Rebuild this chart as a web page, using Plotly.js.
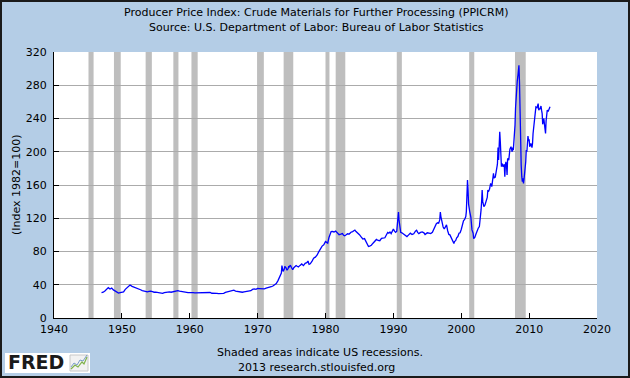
<!DOCTYPE html>
<html><head><meta charset="utf-8">
<script src="https://cdn.plot.ly/plotly-3.0.1.min.js"></script>
<style>
html,body{margin:0;padding:0;background:#B4CDE6}
#wrap{position:relative;width:630px;height:378px}
#chart{width:630px;height:378px}
#frame{position:absolute;left:0;top:0;width:630px;height:378px;box-sizing:border-box;border:2px solid #1a1a1a;pointer-events:none}
</style>
</head><body><div id="wrap"><div id="chart"></div><div id="frame"></div></div>
<script>
// Time (decimal years) and PPI crude materials values (Index 1982=100)
const years = [
1947.0,1947.25,1947.5,1947.75,1948.0,1948.25,1948.5,1948.75,1949.0,1949.25,1949.5,1949.75,
1950.0,1950.25,1950.5,1950.75,1951.0,1951.2,1951.5,1951.75,1952.0,1952.25,1952.5,1952.75,
1953.0,1953.25,1953.5,1953.75,1954.0,1954.25,1954.5,1954.75,1955.0,1955.25,1955.5,1955.75,
1956.0,1956.25,1956.5,1956.75,1957.0,1957.25,1957.5,1957.75,1958.0,1958.25,1958.5,1958.75,
1959.0,1959.25,1959.5,1959.75,1960.0,1960.25,1960.5,1960.75,1961.0,1961.25,1961.5,1961.75,
1962.0,1962.25,1962.5,1962.75,1963.0,1963.25,1963.5,1963.75,1964.0,1964.25,1964.5,1964.75,
1965.0,1965.25,1965.5,1965.75,1966.0,1966.25,1966.5,1966.75,1967.0,1967.25,1967.5,1967.75,
1968.0,1968.25,1968.5,1968.75,1969.0,1969.25,1969.5,1969.75,1970.0,1970.25,1970.5,1970.75,
1971.0,1971.25,1971.5,1971.75,1972.0,1972.25,1972.5,1972.75,
1973.0,1973.17,1973.33,1973.5,1973.58,1973.67,1973.75,1973.92,
1974.0,1974.17,1974.33,1974.5,1974.58,1974.67,1974.83,
1975.0,1975.17,1975.33,1975.5,1975.67,1975.83,
1976.0,1976.25,1976.5,1976.75,1977.0,1977.25,1977.42,1977.58,1977.75,
1978.0,1978.25,1978.5,1978.75,1979.0,1979.25,1979.5,1979.75,1979.92,
1980.0,1980.17,1980.33,1980.5,1980.67,1980.83,1981.0,1981.25,1981.5,1981.67,1981.83,
1982.0,1982.25,1982.5,1982.67,1982.83,1983.0,1983.25,1983.5,1983.75,
1984.0,1984.17,1984.33,1984.5,1984.75,1985.0,1985.25,1985.5,1985.75,
1986.0,1986.17,1986.33,1986.5,1986.75,1987.0,1987.25,1987.5,1987.75,
1988.0,1988.25,1988.5,1988.75,1989.0,1989.17,1989.33,1989.5,1989.67,1989.83,
1990.0,1990.17,1990.33,1990.5,1990.58,1990.67,1990.75,1990.83,1990.92,
1991.0,1991.08,1991.25,1991.5,1991.67,1991.83,1992.0,1992.25,1992.5,1992.75,
1993.0,1993.25,1993.42,1993.58,1993.75,1994.0,1994.25,1994.5,1994.67,1994.83,
1995.0,1995.25,1995.5,1995.75,1996.0,1996.17,1996.33,1996.5,1996.67,1996.83,1996.92,
1997.0,1997.17,1997.33,1997.5,1997.67,1997.83,1998.0,1998.17,1998.33,1998.5,1998.67,1998.83,1998.92,
1999.0,1999.17,1999.33,1999.5,1999.67,1999.83,2000.0,2000.17,2000.33,2000.5,2000.67,2000.75,2000.83,2000.92,
2001.0,2001.08,2001.25,2001.42,2001.58,2001.75,2001.83,2001.92,
2002.0,2002.17,2002.33,2002.5,2002.67,2002.83,2002.92,
2003.0,2003.08,2003.17,2003.33,2003.5,2003.67,2003.83,2003.92,
2004.0,2004.17,2004.33,2004.5,2004.67,2004.75,2004.83,2004.92,
2005.0,2005.17,2005.33,2005.42,2005.5,2005.58,2005.67,2005.75,2005.83,2005.92,
2006.0,2006.17,2006.33,2006.42,2006.5,2006.58,2006.67,2006.75,2006.83,
2007.0,2007.17,2007.33,2007.5,2007.58,2007.67,2007.75,2007.83,2007.92,
2008.0,2008.08,2008.17,2008.25,2008.33,2008.42,2008.5,2008.58,2008.67,2008.75,2008.83,2008.92,
2009.0,2009.08,2009.17,2009.25,2009.33,2009.42,2009.5,2009.58,2009.67,2009.75,2009.83,2009.92,
2010.0,2010.08,2010.25,2010.42,2010.5,2010.58,2010.75,2010.83,2010.92,
2011.0,2011.17,2011.33,2011.42,2011.5,2011.58,2011.67,2011.75,2011.83,2011.92,
2012.0,2012.17,2012.33,2012.42,2012.5,2012.58,2012.67,2012.83,2013.0,2013.08
];
const ppi = [
30.5,31.0,32.5,34.5,36.5,34.8,36.0,33.8,32.3,30.8,30.0,30.5,
30.8,31.5,34.5,36.5,38.8,39.6,38.0,37.0,36.5,35.3,35.0,34.0,
33.0,32.5,32.3,31.5,32.0,32.4,31.8,31.0,31.2,30.8,30.5,29.8,
29.6,30.6,31.0,31.2,31.5,31.0,31.6,31.6,32.0,32.8,32.3,31.8,
31.8,31.6,31.0,30.5,30.6,31.0,30.6,30.2,30.3,30.4,29.9,30.3,
30.6,30.3,30.6,31.0,30.7,29.8,30.0,29.6,29.7,29.3,29.3,29.6,
29.7,30.8,31.4,31.5,33.0,33.6,33.4,32.4,31.9,31.4,31.5,31.0,
31.4,31.8,31.5,32.2,32.9,34.4,34.9,34.4,35.5,35.4,35.3,34.6,
35.1,35.9,36.2,36.8,37.6,38.5,39.8,41.5,
45.0,48.5,51.0,54.0,63.0,57.5,56.0,58.5,
62.0,60.5,57.5,59.5,62.5,61.5,63.5,
60.5,58.0,60.5,62.5,63.0,62.2,
61.5,63.3,65.0,63.0,65.8,66.5,68.5,64.5,65.2,
68.0,72.0,73.2,75.5,79.5,84.0,86.5,88.0,91.0,
92.0,91.0,90.0,96.5,102.0,104.0,104.2,103.5,104.5,102.8,101.0,
100.2,100.8,101.5,99.5,99.0,99.8,101.3,101.0,103.2,
104.0,104.8,105.8,104.0,102.5,100.2,97.5,95.0,95.5,
91.0,87.0,86.0,86.5,87.5,90.0,92.5,94.5,93.3,
93.0,95.8,96.5,96.5,100.5,103.0,102.0,103.5,101.5,104.5,
107.0,104.5,103.0,104.5,112.5,122.5,127.5,118.0,112.5,
109.0,103.0,102.5,101.0,100.5,99.0,98.0,100.0,102.0,100.5,
101.3,104.5,105.5,103.0,101.5,103.0,103.5,102.5,100.5,101.5,
102.5,102.0,101.5,103.0,108.5,111.5,113.5,114.5,114.0,118.0,127.5,
122.0,112.5,109.5,107.0,110.0,112.0,105.0,100.5,100.0,96.5,94.0,91.5,89.5,
92.0,93.0,96.5,98.0,102.0,102.5,106.5,112.0,117.0,118.5,122.0,128.0,140.0,166.0,
155.0,137.0,128.0,121.0,106.0,102.0,95.5,96.0,
97.0,101.0,105.0,108.0,110.0,119.0,130.0,
140.0,154.0,140.0,134.0,136.0,139.5,145.0,154.0,
152.0,155.0,162.0,158.0,166.0,174.0,168.0,170.0,
169.0,178.0,185.0,205.0,190.0,205.0,224.0,213.0,190.0,182.0,
186.0,182.0,185.0,170.0,184.0,188.0,183.0,172.0,192.0,
190.0,203.0,206.0,200.0,205.0,202.0,210.0,222.0,232.0,
253.0,268.0,275.0,285.0,290.0,298.0,304.0,284.0,238.0,207.0,184.0,170.0,
164.0,168.0,162.0,167.0,172.0,184.0,188.0,202.0,200.0,210.0,219.0,213.0,
215.0,206.0,210.0,205.0,210.0,222.0,232.0,240.0,248.0,
254.0,253.0,258.0,250.0,252.0,251.0,254.0,255.0,250.0,246.0,
233.0,240.0,228.0,222.0,237.0,246.0,250.0,249.0,252.0,254.0
];
// NBER recessions (decimal years)
const recStart = [1945.083,1948.833,1953.5,1957.583,1960.25,1969.917,1973.833,1980.0,1981.5,1990.5,2001.167,2007.917];
const recEnd   = [1945.833,1949.833,1954.417,1958.333,1961.167,1970.917,1975.25,1980.583,1982.917,1991.25,2001.917,2009.5];
const yTicks = [0,40,80,120,160,200,240,280,320];
const xTicks = [1940,1950,1960,1970,1980,1990,2000,2010,2020];

// pixel -> paper helpers for decorations (plot area 54..597 x, 52..318 y)
const L=54,R=597,T=52,B=318;
const px=v=>(v-L)/(R-L), py=v=>(B-v)/(B-T);

const shapes = recStart.map((s,i)=>({
  type:'rect', xref:'x', yref:'paper', x0:s, x1:recEnd[i], y0:0, y1:1,
  fillcolor:'#BEBEBE', line:{width:0}, layer:'between'
}));
// FRED logo box + icon
shapes.push({type:'rect',xref:'paper',yref:'paper',x0:px(5),x1:px(90),y0:py(353),y1:py(373),fillcolor:'#FFFFFF',line:{width:0}});
shapes.push({type:'rect',xref:'paper',yref:'paper',x0:px(70),x1:px(88),y0:py(355),y1:py(371),fillcolor:'#F2F2F2',line:{color:'#C8C8C8',width:1}});
shapes.push({type:'path',xref:'paper',yref:'paper',
  path:`M${px(71)},${py(369)} L${px(75)},${py(365)} L${px(78)},${py(367)} L${px(82)},${py(362)} L${px(84)},${py(364)} L${px(87)},${py(357)}`,
  line:{color:'#7FB24A',width:1.2}});
shapes.push({type:'path',xref:'paper',yref:'paper',
  path:`M${px(71)},${py(367)} L${px(74)},${py(363)} L${px(77)},${py(365)} L${px(80)},${py(360)} L${px(83)},${py(361)} L${px(87)},${py(355)}`,
  line:{color:'#7A9CC8',width:1}});

const font = {family:'DejaVu Sans, Verdana, sans-serif', size:11, color:'#000'};

const data = [{
  x: years, y: ppi, type:'scatter', mode:'lines',
  line:{color:'#0000FF', width:1.3}, hoverinfo:'skip'
}];

const layout = {
  width:630, height:378,
  margin:{l:L, r:630-R, t:T, b:378-B, pad:0},
  paper_bgcolor:'#B4CDE6', plot_bgcolor:'#FFFFFF',
  font: font, showlegend:false,
  xaxis:{range:[1940,2020], tickvals:xTicks, ticktext:xTicks.map(String),
    ticks:'inside', ticklen:5, tickcolor:'#000', showline:true, linecolor:'#000', linewidth:1,
    showgrid:false, zeroline:false, tickfont:font, ticklabelstandoff:1},
  yaxis:{range:[0,320], tickvals:yTicks, ticktext:yTicks.map(String),
    ticks:'inside', ticklen:5, tickcolor:'#000', showline:true, linecolor:'#000', linewidth:1,
    showgrid:true, gridcolor:'#ABABAB', gridwidth:1, zeroline:false, tickfont:font, ticklabelstandoff:4},
  shapes: shapes,
  annotations:[
    {text:'Producer Price Index: Crude Materials for Further Processing (PPICRM)', xref:'paper', yref:'paper', x:px(316), y:py(12), showarrow:false, font:font, xanchor:'center', yanchor:'middle'},
    {text:'Source: U.S. Department of Labor: Bureau of Labor Statistics', xref:'paper', yref:'paper', x:px(316), y:py(27), showarrow:false, font:font, xanchor:'center', yanchor:'middle'},
    {text:'(Index 1982=100)', xref:'paper', yref:'paper', x:px(16), y:0.5, textangle:-90, showarrow:false, font:font, xanchor:'center', yanchor:'middle'},
    {text:'Shaded areas indicate US recessions.', xref:'paper', yref:'paper', x:px(320), y:py(352), showarrow:false, font:font, xanchor:'center', yanchor:'middle'},
    {text:'2013 research.stlouisfed.org', xref:'paper', yref:'paper', x:px(316), y:py(367), showarrow:false, font:font, xanchor:'center', yanchor:'middle'},
    {text:'<b>FRED</b>', xref:'paper', yref:'paper', x:px(36), y:py(362), showarrow:false, font:{family:'DejaVu Sans, sans-serif', size:19, color:'#1a1a1a'}, xanchor:'center', yanchor:'middle'}
  ]
};
Plotly.newPlot('chart', data, layout, {staticPlot:true, displayModeBar:false});
</script></body></html>
